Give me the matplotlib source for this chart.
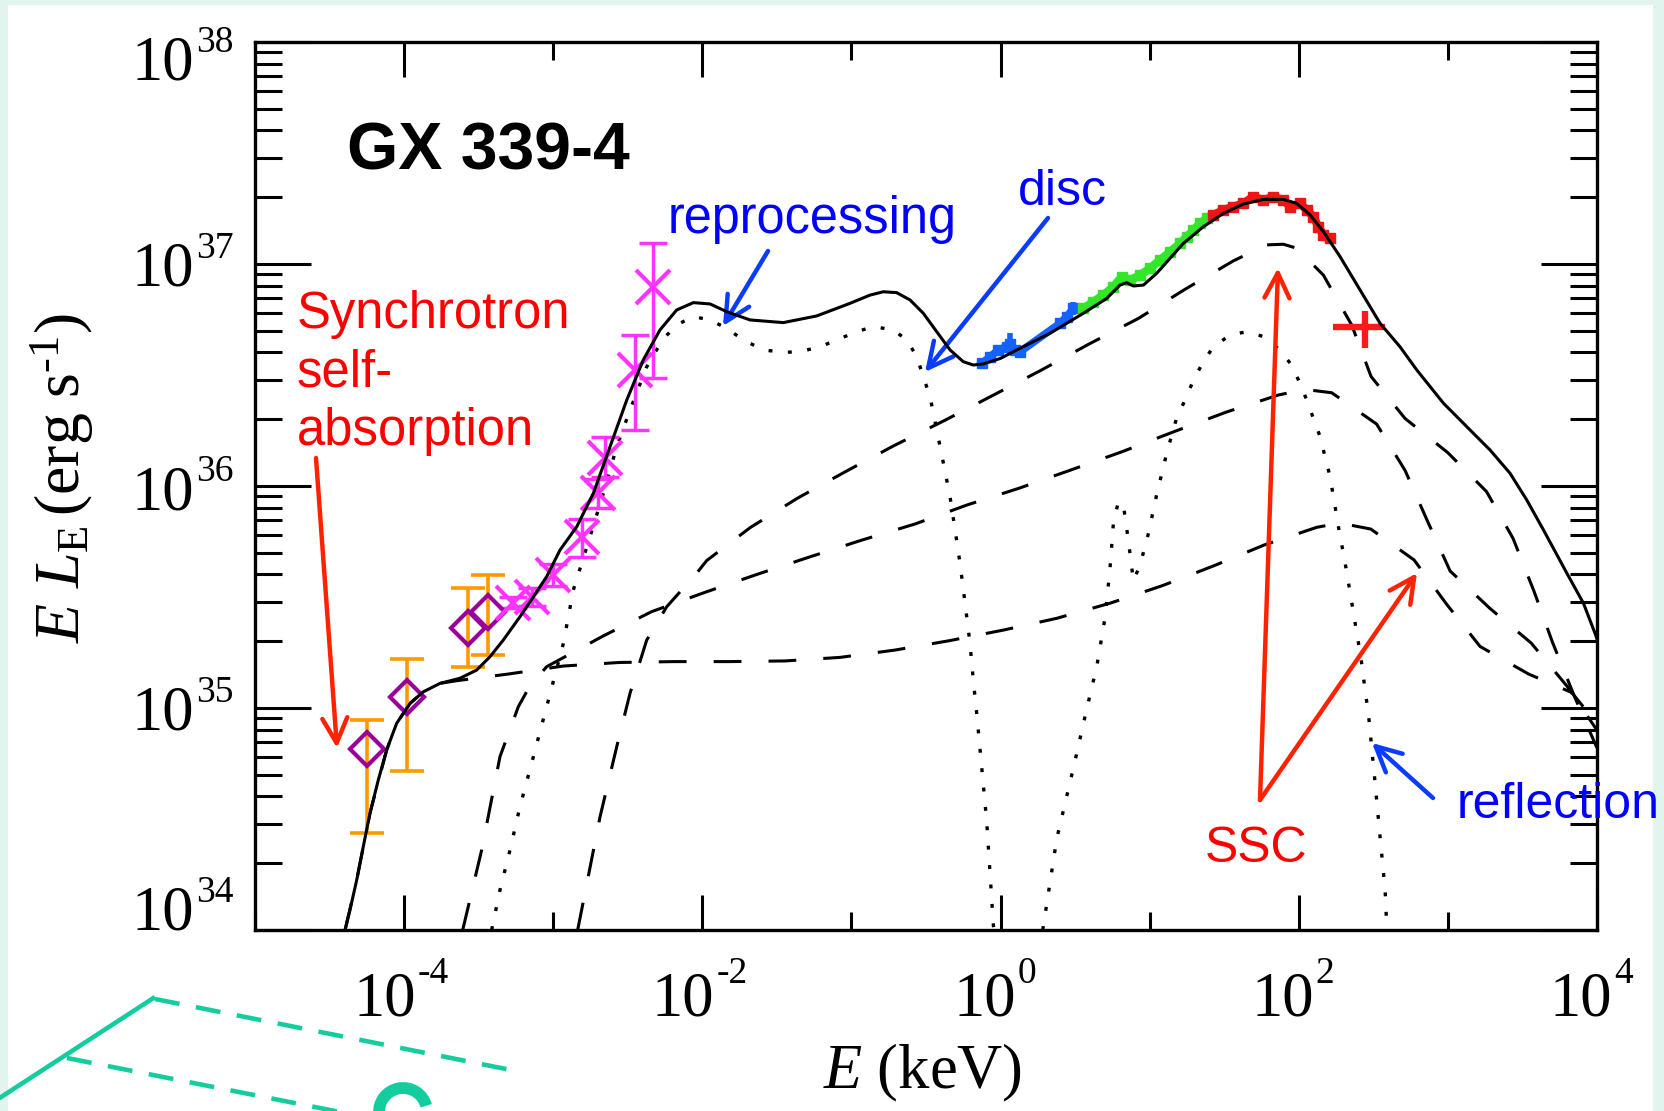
import numpy as np
import matplotlib
matplotlib.use('Agg')
import matplotlib.pyplot as plt
from matplotlib.patches import Rectangle, Arc
from matplotlib.lines import Line2D
from matplotlib.ticker import FixedLocator, LogLocator, NullFormatter
from matplotlib.transforms import IdentityTransform, blended_transform_factory, offset_copy

W, H, DPI = 1664, 1111, 100

# ---------------- data (log10 E [keV], log10 EL_E [erg/s]) ----------------
solid_logE = [-4.396, -4.363, -4.318, -4.274, -4.229, -4.173, -4.117, -4.05, -3.96, -3.871, -3.759,
              -3.625, -3.513, -3.424, -3.335, -3.223, -3.133, -3.044, -2.954, -2.842, -2.731, -2.619,
              -2.507, -2.396, -2.284, -2.172, -2.06, -1.948, -1.836, -1.68, -1.457, -1.233, -1.009,
              -0.875, -0.786, -0.697, -0.607, -0.518, -0.428, -0.339, -0.25, -0.183, -0.115, 0.0,
              0.109, 0.332, 0.555, 0.712, 0.801, 0.846, 0.891, 0.958, 1.047, 1.137, 1.226, 1.36,
              1.494, 1.628, 1.763, 1.897, 1.986, 2.076, 2.165, 2.277, 2.411, 2.545, 2.679, 2.791,
              2.97, 3.127, 3.283, 3.417, 3.529, 3.641, 3.798, 3.909, 3.987, 4.0]
solid_logL = [34.0, 34.09, 34.225, 34.375, 34.526, 34.676, 34.811, 34.931, 35.021, 35.073, 35.111,
              35.134, 35.171, 35.231, 35.306, 35.411, 35.501, 35.592, 35.712, 35.817, 35.967, 36.177,
              36.387, 36.568, 36.703, 36.793, 36.826, 36.82, 36.785, 36.748, 36.736, 36.766, 36.823,
              36.86, 36.875, 36.871, 36.838, 36.778, 36.695, 36.613, 36.56, 36.545, 36.55, 36.575,
              36.613, 36.688, 36.778, 36.845, 36.905, 36.916, 36.901, 36.905, 36.958, 37.026, 37.093, 37.168,
              37.228, 37.27, 37.291, 37.291, 37.273, 37.221, 37.146, 37.033, 36.883, 36.733, 36.627, 36.523,
              36.373, 36.267, 36.162, 36.057, 35.937, 35.802, 35.607, 35.472, 35.336, 35.31]

disc_logE = [-3.413, -3.357, -3.29, -3.223, -3.133, -3.044, -2.932, -2.865, -2.753, -2.664, -2.574,
             -2.485, -2.373, -2.261, -2.16, -2.06, -1.948, -1.836, -1.725, -1.591, -1.457, -1.345,
             -1.211, -1.099, -0.965, -0.853, -0.719, -0.629, -0.562, -0.518, -0.473, -0.428, -0.383,
             -0.339, -0.305, -0.272, -0.238, -0.205, -0.183, -0.16, -0.126, -0.093, -0.07, -0.048, -0.044]
disc_logL = [34.0, 34.18, 34.36, 34.556, 34.781, 35.006, 35.291, 35.532, 35.772, 35.967, 36.177,
             36.342, 36.537, 36.665, 36.73, 36.763, 36.748, 36.71, 36.658, 36.613, 36.602, 36.605,
             36.627, 36.658, 36.695, 36.718, 36.703, 36.658, 36.583, 36.492, 36.402, 36.252, 36.102,
             35.952, 35.802, 35.652, 35.472, 35.291, 35.126, 34.976, 34.73, 34.49, 34.25, 34.02, 34.0]

refl_logE = [0.283, 0.377, 0.488, 0.578, 0.645, 0.701, 0.734, 0.757, 0.79, 0.824, 0.857, 0.891,
             0.936, 0.992, 1.047, 1.115, 1.182, 1.248, 1.293, 1.36, 1.427, 1.539, 1.651,
             1.763, 1.874, 1.942, 2.009, 2.053, 2.098, 2.143, 2.176, 2.21, 2.232, 2.255, 2.277,
             2.304, 2.326, 2.349, 2.371, 2.393, 2.416, 2.433, 2.451, 2.469, 2.483, 2.512, 2.545,
             2.579, 2.59]
refl_logL = [34.0, 34.412, 34.728, 34.996, 35.186, 35.408, 35.629, 35.834, 35.929, 35.913, 35.755, 35.573,
             35.645, 35.787, 35.961, 36.15, 36.309, 36.402, 36.477, 36.56, 36.627, 36.68, 36.695,
             36.673, 36.613, 36.553, 36.463, 36.387, 36.305, 36.222, 36.132, 36.042, 35.952, 35.862, 35.772,
             35.682, 35.592, 35.501, 35.411, 35.321, 35.231, 35.141, 35.051, 34.961, 34.863, 34.661, 34.42,
             34.18, 34.015]

sscA_logE = [-2.836, -2.686, -2.574, -2.485, -2.373, -2.239, -2.038, -1.971, -1.676, -1.362, -1.039,
             -0.714, -0.379, -0.055, 0.265, 0.589, 0.925, 1.237, 1.561, 1.784, 1.897, 1.986, 2.165,
             2.355, 2.485, 2.713, 2.998, 3.259, 3.437, 3.578, 3.702, 3.85, 4.0]
sscA_logL = [34.0, 34.51, 34.826, 35.066, 35.306, 35.456, 35.607, 35.664, 35.814, 35.945, 36.065,
             36.182, 36.294, 36.407, 36.519, 36.638, 36.755, 36.886, 37.014, 37.086, 37.089, 37.071, 36.95,
             36.725, 36.493, 36.304, 36.151, 35.975, 35.764, 35.525, 35.295, 35.05, 34.82]

sscC_logE = [-3.607, -3.48, -3.357, -3.234, -3.156, -3.044, -2.666, -2.34, -1.982, -1.624, -1.273,
             -0.927, -0.573, -0.227, 0.124, 0.471, 0.817, 1.164, 1.51, 1.864, 2.042, 2.221, 2.522,
             2.713, 2.861, 3.015, 3.283, 3.558, 3.803, 4.0]
sscC_logL = [34.0, 34.36, 34.781, 35.006, 35.1, 35.186, 35.324, 35.434, 35.521, 35.604, 35.682,
             35.757, 35.829, 35.914, 35.99, 36.072, 36.155, 36.245, 36.332, 36.41, 36.435, 36.42, 36.279,
             36.07, 35.845, 35.617, 35.448, 35.293, 35.095, 34.9]

sscD_logE = [-4.396, -4.318, -4.229, -4.117, -4.05, -3.96, -3.871, -3.759, -3.647, -3.301, -2.932,
             -2.559, -2.19, -1.821, -1.445, -1.076, -0.708, -0.345, 0.019, 0.377, 0.734, 1.085, 1.432,
             1.767, 2.121, 2.277, 2.483, 2.773, 2.991, 3.216, 3.541, 3.83, 4.0]
sscD_logL = [34.0, 34.225, 34.526, 34.811, 34.931, 35.021, 35.073, 35.111, 35.123, 35.153, 35.189,
             35.205, 35.209, 35.209, 35.212, 35.228, 35.261, 35.303, 35.351, 35.404, 35.472, 35.551, 35.641,
             35.734, 35.814, 35.833, 35.806, 35.667, 35.468, 35.277, 35.153, 35.07, 34.93]

# radio points (purple diamonds, orange error bars)
radio_logE = [-4.249, -3.98, -3.571, -3.437]
radio_logL = [34.815, 35.05, 35.36, 35.432]
radio_hi = [34.946, 35.221, 35.541, 35.599]
radio_lo = [34.437, 34.716, 35.185, 35.239]

# IR/optical points (magenta crosses)
opt_logE = [-3.27, -3.144, -3.0, -2.807, -2.7, -2.652, -2.451, -2.331]
opt_logL = [35.473, 35.5, 35.6, 35.77, 35.968, 36.126, 36.523, 36.896]
opt_hi = [35.5, 35.54, 35.65, 35.85, 36.03, 36.22, 36.68, 37.095]
opt_lo = [35.45, 35.46, 35.55, 35.68, 35.9, 36.04, 36.252, 36.486]

# X-ray data
blue_logE = [-0.126, -0.07, -0.015, 0.042, 0.064, 0.097, 0.131, 0.399, 0.444, 0.488]
blue_logL = [36.553, 36.582, 36.613, 36.628, 36.64, 36.613, 36.605, 36.733, 36.763, 36.8]
blue_err = [0.02, 0.02, 0.02, 0.02, 0.05, 0.02, 0.02, 0.02, 0.02, 0.03]
green_logE = [0.555, 0.622, 0.69, 0.757, 0.813, 0.869, 0.936, 1.003, 1.07, 1.137, 1.204, 1.249, 1.293,
              1.338, 1.383]
green_logL = [36.8, 36.83, 36.86, 36.898, 36.943, 36.928, 36.95, 36.981, 37.018, 37.055, 37.093, 37.123,
              37.153, 37.183, 37.206]
red_logE = [1.427, 1.494, 1.561, 1.628, 1.695, 1.763, 1.83, 1.897, 1.942, 2.009, 2.054, 2.098, 2.132,
            2.165, 2.21]
red_logL = [37.221, 37.243, 37.258, 37.273, 37.303, 37.288, 37.303, 37.288, 37.258, 37.273, 37.243,
            37.213, 37.168, 37.131, 37.116]

# high-energy point (red cross)
hx_logE, hx_lo_E, hx_hi_E = 2.445, 2.23, 2.58
hx_logL, hx_lo_L, hx_hi_L = 36.716, 36.62, 36.79

y_exponents = [34, 35, 36, 37, 38]
x_exponents = [-4, -2, 0, 2, 4]

# ---------------- style ----------------
plt.rcParams['lines.scale_dashes'] = False
plt.rcParams['mathtext.fontset'] = 'custom'
plt.rcParams['mathtext.rm'] = 'Liberation Serif'
plt.rcParams['mathtext.it'] = 'Liberation Serif:italic'
plt.rcParams['mathtext.bf'] = 'Liberation Serif:bold'

SERIF = 'Liberation Serif'
SANS = 'Liberation Sans'
MINT = '#e2f4ee'
TEAL = '#14cd9f'
RED_T = '#ff0000'
BLUE_T = '#0000ff'
RED_A = '#ff2200'
BLUE_A = '#0a3cff'

fig = plt.figure(figsize=(W / DPI, H / DPI), dpi=DPI, facecolor=MINT)
fig.add_artist(Rectangle((8 / W, 0), (1653 - 8) / W, 1 - 5 / H, transform=fig.transFigure,
                         facecolor='white', edgecolor='none', zorder=-10))

ax = fig.add_axes([255 / W, 1 - 930 / H, (1597 - 255) / W, (930 - 42) / H])
ax.set_xscale('log')
ax.set_yscale('log')
ax.set_xlim(1e-5, 1e4)
ax.set_ylim(1e34, 1e38)


def p(a):
    return 10.0 ** np.asarray(a, dtype=float)


LW = 2.2
dash = (0, (20, 19.5))
dots = (0, (2.8, 11.2))

ax.plot(p(sscD_logE), p(sscD_logL), color='black', lw=LW, ls=dash, zorder=2)
ax.plot(p(sscC_logE), p(sscC_logL), color='black', lw=LW, ls=dash, zorder=2)
ax.plot(p(sscA_logE), p(sscA_logL), color='black', lw=LW, ls=dash, zorder=2)
ax.plot(p(disc_logE), p(disc_logL), color='black', lw=2.4, ls=dots, zorder=2)
ax.plot(p(refl_logE), p(refl_logL), color='black', lw=2.4, ls=dots, zorder=2)

# radio
rE, rL = p(radio_logE), p(radio_logL)
ax.errorbar(rE, rL, yerr=[rL - p(radio_lo), p(radio_hi) - rL], fmt='none', ecolor='#ff9900',
            elinewidth=2.6, capsize=12, capthick=2.6, zorder=3)
ax.plot(rE, rL, ls='none', marker='D', ms=17, mfc='none', mec='#990099', mew=3.0, zorder=4)

# optical / IR
oE, oL = p(opt_logE), p(opt_logL)
ax.errorbar(oE, oL, yerr=[oL - p(opt_lo), p(opt_hi) - oL], fmt='none', ecolor='#ff33ff',
            elinewidth=2.5, capsize=10, capthick=2.5, zorder=3)
ax.plot(oE, oL, ls='none', marker='x', ms=25, mec='#ff33ff', mew=3.0, zorder=4)

# X-ray data bands
bE, bL = p(blue_logE), p(blue_logL)
ax.errorbar(bE, bL, yerr=[bL - p(np.array(blue_logL) - np.array(blue_err)),
                          p(np.array(blue_logL) + np.array(blue_err)) - bL],
            fmt='none', ecolor='#1462ff', elinewidth=4, zorder=3)
ax.plot(bE, bL, color='#1462ff', lw=5.5, marker='s', ms=7, zorder=3)
ax.plot(p(green_logE), p(green_logL), color='#33e62a', lw=6, marker='s', ms=7, zorder=3)
ax.plot(p(red_logE), p(red_logL), color='#f01414', lw=6, marker='s', ms=7, zorder=3)

ax.errorbar([p(hx_logE)], [p(hx_logL)],
            xerr=[[p(hx_logE) - p(hx_lo_E)], [p(hx_hi_E) - p(hx_logE)]],
            yerr=[[p(hx_logL) - p(hx_lo_L)], [p(hx_hi_L) - p(hx_logL)]],
            fmt='none', ecolor='#ff1a1a', elinewidth=4.6, zorder=4)

# total model
ax.plot(p(solid_logE), p(solid_logL), color='black', lw=2.2, zorder=5)

# ---------------- axes / ticks ----------------
ax.xaxis.set_major_locator(FixedLocator([10.0 ** e for e in x_exponents]))
ax.xaxis.set_minor_locator(FixedLocator([1e-5, 1e-3, 1e-1, 1e1, 1e3]))
ax.yaxis.set_major_locator(FixedLocator([10.0 ** e for e in y_exponents]))
ax.yaxis.set_minor_locator(LogLocator(base=10, subs=np.arange(2, 10), numticks=30))
for a in (ax.xaxis, ax.yaxis):
    a.set_minor_formatter(NullFormatter())
ax.tick_params(axis='both', which='both', direction='in', width=2.2, color='black',
               labelbottom=False, labelleft=False, top=True, right=True, bottom=True, left=True)
ax.tick_params(axis='x', which='major', length=25)
ax.tick_params(axis='x', which='minor', length=13)
ax.tick_params(axis='y', which='major', length=40)
ax.tick_params(axis='y', which='minor', length=19.5)
for s in ax.spines.values():
    s.set_linewidth(2.4)

# manual tick labels ("10" + superscript)
ty = blended_transform_factory(fig.transFigure, ax.transData)
ydrop = {34: 0, 35: 22, 36: 23, 37: 22, 38: 38}
for e in y_exponents:
    d = ydrop[e]
    fig.text(194 / W, 10.0 ** e, '10', transform=offset_copy(ty, fig=fig, x=0, y=-d, units='dots'),
             ha='right', va='baseline', fontsize=45, family=SERIF)
    fig.text(196 / W, 10.0 ** e, str(e), transform=offset_copy(ty, fig=fig, x=0, y=-d + 28, units='dots'),
             ha='left', va='baseline', fontsize=27, family=SERIF)

tx = blended_transform_factory(ax.transData, fig.transFigure)
for e in x_exponents:
    sh = 12 if e < 0 else 15
    fig.text(10.0 ** e, 1 - 1015 / H, '10', transform=offset_copy(tx, fig=fig, x=sh, y=0, units='dots'),
             ha='right', va='baseline', fontsize=45, family=SERIF)
    fig.text(10.0 ** e, 1 - 983 / H, str(e), transform=offset_copy(tx, fig=fig, x=sh + 2, y=0, units='dots'),
             ha='left', va='baseline', fontsize=27, family=SERIF)

fig.text(62 / W, 1 - 478 / H, r'$E\ L_{\mathrm{E}}\,(\mathrm{erg\ s}^{\text{-1}})$', rotation=90,
         ha='center', va='center', fontsize=46)
fig.text(923 / W, 1 - 1088 / H, r'$E\ (\mathrm{keV})$', ha='center', va='baseline', fontsize=45)

# ---------------- annotations ----------------
def ftext(x, y, s, **kw):
    fig.text(x / W, 1 - y / H, s, ha='left', va='baseline', **kw)


ftext(347, 170, 'GX 339-4', fontsize=47.5, fontweight='bold', family=SANS, color='black')
ftext(297, 328, 'Synchrotron', fontsize=36.5, family=SANS, color=RED_T)
ftext(297, 387, 'self-', fontsize=36.5, family=SANS, color=RED_T)
ftext(297, 445, 'absorption', fontsize=36.5, family=SANS, color=RED_T)
ftext(668, 233, 'reprocessing', fontsize=36.4, family=SANS, color=BLUE_T)
ftext(1018, 205, 'disc', fontsize=36, family=SANS, color=BLUE_T)
ftext(1205, 862, 'SSC', fontsize=36, family=SANS, color=RED_T)
ftext(1457, 818, 'reflection', fontsize=36, family=SANS, color=BLUE_T)


def farrow(x0, y0, x1, y1, color):
    ax.annotate('', xy=(x1 / W, 1 - y1 / H), xycoords='figure fraction',
                xytext=(x0 / W, 1 - y0 / H), textcoords='figure fraction',
                annotation_clip=False,
                arrowprops=dict(arrowstyle='->,head_length=0.9,head_width=0.45', color=color, lw=3.2,
                                shrinkA=0, shrinkB=0, mutation_scale=20))


farrow(316, 458, 337, 748, RED_A)
farrow(768, 251, 723, 326, BLUE_A)
farrow(1048, 218, 925, 372, BLUE_A)
farrow(1260, 800, 1278, 268, RED_A)
farrow(1260, 800, 1417, 573, RED_A)
farrow(1433, 798, 1372, 743, BLUE_A)

# ---------------- decoration (bottom-left) ----------------
def dline(pts, ls):
    xs = [q[0] for q in pts]
    ys = [H - q[1] for q in pts]
    fig.add_artist(Line2D(xs, ys, transform=IdentityTransform(), color=TEAL, lw=3.3, ls=ls,
                          solid_capstyle='butt', dash_capstyle='butt', zorder=5))


dline([(-5, 1101), (155, 997)], '-')
dline([(155, 999), (511, 1070)], (0, (18, 12)))
dline([(67, 1058), (345, 1113)], (0, (18, 12)))
fig.add_artist(Arc((403, H - 1112), 48, 48, theta1=15, theta2=185, transform=IdentityTransform(),
                   color=TEAL, lw=8.5, zorder=5))

fig.savefig('out.png', dpi=DPI, facecolor=MINT)
